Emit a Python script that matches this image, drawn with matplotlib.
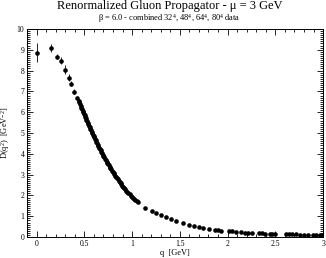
import matplotlib
matplotlib.use("Agg")
import matplotlib.pyplot as plt
from matplotlib.ticker import MultipleLocator

plt.rcParams['font.family'] = ['Liberation Serif', 'DejaVu Serif']
plt.rcParams['mathtext.fontset'] = 'custom'
plt.rcParams['mathtext.rm'] = 'Liberation Serif'
plt.rcParams['mathtext.it'] = 'Liberation Serif:italic'

# Low-momentum points (visible error bars)
q_low = [0.0, 0.147, 0.21, 0.255, 0.30, 0.34, 0.364, 0.39, 0.427]
D_low = [8.86, 9.07, 8.67, 8.48, 8.03, 7.66, 7.36, 6.99, 6.70]
E_low = [0.45, 0.20, 0.12, 0.15, 0.22, 0.15, 0.12, 0.12, 0.10]

# Dense region
q_mid = [0.440, 0.448, 0.455, 0.462, 0.470, 0.476, 0.483, 0.490, 0.497, 0.503,
         0.510, 0.516, 0.522, 0.528, 0.535, 0.541, 0.548, 0.555, 0.562, 0.570,
         0.577, 0.584, 0.590, 0.597, 0.604, 0.612, 0.619, 0.626, 0.633, 0.640,
         0.648, 0.655, 0.662, 0.670, 0.677, 0.685, 0.692, 0.700, 0.708, 0.716,
         0.724, 0.732, 0.740, 0.748, 0.756, 0.764, 0.772, 0.780, 0.789, 0.797,
         0.806, 0.815, 0.824, 0.833, 0.842, 0.851, 0.860, 0.870, 0.879, 0.889,
         0.899, 0.909, 0.919, 0.929, 0.940, 0.951, 0.962, 0.973, 0.985, 0.997,
         1.009, 1.021, 1.034, 1.047, 1.060]
D_mid = [6.55, 6.48, 6.40, 6.30, 6.22, 6.15, 6.08, 6.00, 5.92, 5.86,
         5.78, 5.70, 5.62, 5.56, 5.50, 5.43, 5.36, 5.29, 5.21, 5.13,
         5.06, 4.99, 4.92, 4.86, 4.79, 4.72, 4.64, 4.57, 4.50, 4.44,
         4.37, 4.30, 4.23, 4.16, 4.09, 4.02, 3.96, 3.89, 3.83, 3.76,
         3.70, 3.63, 3.56, 3.50, 3.44, 3.38, 3.31, 3.25, 3.19, 3.13,
         3.07, 3.01, 2.95, 2.89, 2.83, 2.77, 2.71, 2.65, 2.59, 2.53,
         2.47, 2.41, 2.35, 2.29, 2.23, 2.17, 2.11, 2.05, 1.99, 1.94,
         1.88, 1.83, 1.77, 1.72, 1.67]
E_mid = [0.10, 0.10, 0.10, 0.09, 0.09, 0.09, 0.09, 0.08, 0.08, 0.08,
         0.08, 0.08, 0.08, 0.07, 0.07, 0.07, 0.07, 0.07, 0.07, 0.06,
         0.06, 0.06, 0.06, 0.06, 0.06, 0.06, 0.05, 0.05, 0.05, 0.05,
         0.05, 0.05, 0.05, 0.05, 0.05, 0.04, 0.04, 0.04, 0.04, 0.04,
         0.04, 0.04, 0.04, 0.04, 0.04, 0.04, 0.03, 0.03, 0.03, 0.03,
         0.03, 0.03, 0.03, 0.03, 0.03, 0.03, 0.03, 0.03, 0.03, 0.03,
         0.03, 0.03, 0.03, 0.03, 0.03, 0.03, 0.02, 0.02, 0.02, 0.02,
         0.02, 0.02, 0.02, 0.02, 0.02]

# Tail
q_hi = [1.14, 1.21, 1.25, 1.30, 1.35, 1.41, 1.46, 1.53, 1.60, 1.65,
        1.70, 1.74, 1.81, 1.87, 1.90, 1.93, 2.02, 2.05, 2.09, 2.14,
        2.18, 2.21, 2.26, 2.33, 2.36, 2.39, 2.44, 2.47, 2.50, 2.61,
        2.64, 2.67, 2.72, 2.76, 2.80, 2.84, 2.89, 2.93, 2.97, 3.00]
D_hi = [1.41, 1.26, 1.18, 1.06, 0.95, 0.85, 0.77, 0.67, 0.58, 0.53,
        0.48, 0.45, 0.39, 0.35, 0.33, 0.31, 0.28, 0.27, 0.25, 0.24,
        0.22, 0.21, 0.20, 0.18, 0.18, 0.17, 0.16, 0.16, 0.15, 0.14,
        0.14, 0.13, 0.13, 0.12, 0.12, 0.12, 0.11, 0.11, 0.11, 0.10]
E_hi = [0.03, 0.03, 0.02, 0.02, 0.02, 0.02, 0.02, 0.02, 0.02, 0.02,
        0.01, 0.01, 0.01, 0.01, 0.01, 0.01, 0.01, 0.01, 0.01, 0.01,
        0.01, 0.01, 0.01, 0.01, 0.01, 0.01, 0.01, 0.01, 0.01, 0.01,
        0.01, 0.01, 0.01, 0.01, 0.01, 0.01, 0.01, 0.01, 0.01, 0.01]

title = "Renormalized Gluon Propagator - \u03bc = 3 GeV"
subtitle = "\u03b2 = 6.0 - combined 32$^4$, 48$^4$, 64$^4$, 80$^4$ data"
xlabel = "q  [GeV]"
ylabel = "D(q$^2$)  [GeV$^{-2}$]"

fig = plt.figure(figsize=(3.26, 2.58), dpi=100)
ax = fig.add_axes([0.083, 0.081, 0.908, 0.807])

for qs, ds, es in [(q_low, D_low, E_low), (q_mid, D_mid, E_mid), (q_hi, D_hi, E_hi)]:
    ax.errorbar(qs, ds, yerr=es, fmt='o', color='black', markersize=3.3,
                elinewidth=0.6, capsize=2.3, capthick=0.6, markeredgewidth=0)

ax.set_xlim(-0.1, 3.0)
ax.set_ylim(0, 10)
ax.xaxis.set_minor_locator(MultipleLocator(0.1))
ax.yaxis.set_minor_locator(MultipleLocator(0.1))
ax.set_xticks([0, 0.5, 1, 1.5, 2, 2.5, 3])
ax.set_xticklabels(['0', '0.5', '1', '1.5', '2', '2.5', '3'])
ax.set_yticks(range(0, 11))
ax.set_yticklabels([str(v) for v in range(0, 11)])
ax.tick_params(which='both', direction='in', top=True, right=True, labelsize=5.5, pad=2, width=0.6)
ax.tick_params(which='major', length=4)
ax.tick_params(which='minor', length=2)
for s in ax.spines.values():
    s.set_linewidth(0.7)

ax.set_xlabel(xlabel, fontsize=6, labelpad=1)
ax.set_ylabel(ylabel, fontsize=6, labelpad=3)

fig.text(0.52, 0.977, title, ha='center', va='center', fontsize=9)
fig.text(0.52, 0.929, subtitle, ha='center', va='center', fontsize=6)

fig.savefig("out.png", dpi=100)
